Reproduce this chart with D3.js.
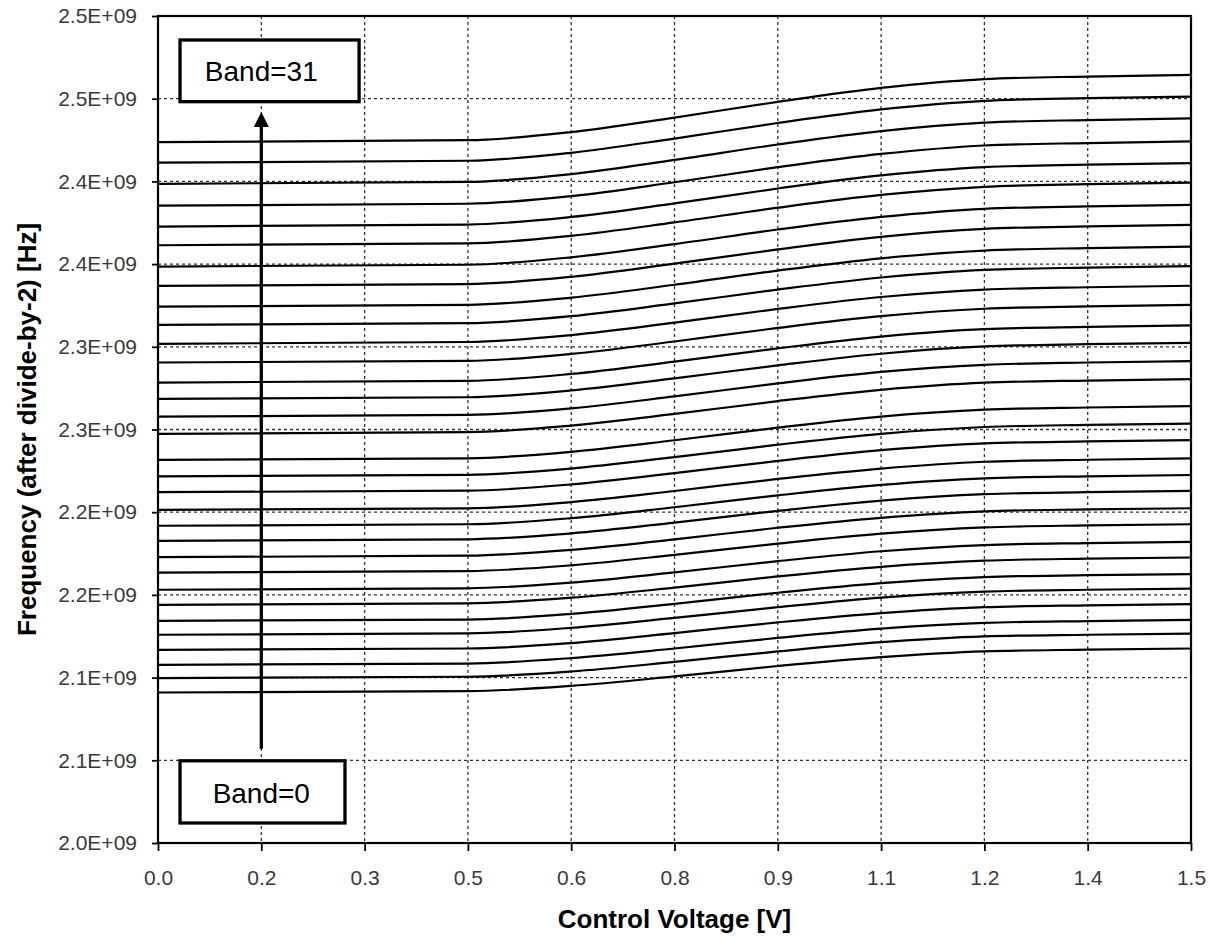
<!DOCTYPE html>
<html><head><meta charset="utf-8">
<script src="https://cdn.jsdelivr.net/npm/d3@7"></script>
<style>body{margin:0;background:#fff} svg{display:block}</style>
</head><body><svg id="chart" width="1211" height="936"></svg>
<script>
// Control voltage sample points [V]
const voltages = [0, 0.45, 0.6, 0.75, 0.9, 1.05, 1.2, 1.35, 1.5];
// Frequency after divide-by-2 [MHz], one row per band (Band 0 .. Band 31)
const bandFreqsMHz = [
  [2091.0, 2091.8, 2095.0, 2100.7, 2107.0, 2112.4, 2115.9, 2116.9, 2117.6],
  [2099.7, 2100.5, 2103.7, 2109.5, 2115.8, 2121.4, 2124.9, 2125.9, 2126.6],
  [2107.7, 2108.5, 2111.8, 2117.6, 2124.0, 2129.6, 2133.1, 2134.2, 2134.9],
  [2116.8, 2117.6, 2120.9, 2126.9, 2133.4, 2139.0, 2142.6, 2143.7, 2144.4],
  [2125.9, 2126.7, 2130.1, 2136.1, 2142.6, 2148.4, 2152.0, 2153.1, 2153.8],
  [2134.3, 2135.1, 2138.5, 2144.6, 2151.3, 2157.1, 2160.8, 2161.9, 2162.6],
  [2144.0, 2144.9, 2148.3, 2154.4, 2161.2, 2167.0, 2170.7, 2171.9, 2172.6],
  [2153.1, 2154.0, 2157.4, 2163.6, 2170.4, 2176.4, 2180.1, 2181.3, 2182.0],
  [2163.5, 2164.4, 2167.9, 2174.2, 2181.0, 2187.0, 2190.8, 2192.0, 2192.7],
  [2172.8, 2173.7, 2177.2, 2183.6, 2190.6, 2196.6, 2200.5, 2201.7, 2202.4],
  [2182.7, 2183.6, 2187.2, 2193.7, 2200.8, 2207.0, 2210.9, 2212.1, 2212.9],
  [2191.8, 2192.7, 2196.4, 2203.0, 2210.2, 2216.5, 2220.5, 2221.7, 2222.5],
  [2201.4, 2202.3, 2206.1, 2212.8, 2220.1, 2226.4, 2230.5, 2231.7, 2232.5],
  [2212.1, 2213.0, 2216.8, 2223.6, 2231.0, 2237.5, 2241.6, 2242.8, 2243.6],
  [2221.6, 2222.6, 2226.4, 2233.3, 2240.8, 2247.4, 2251.5, 2252.8, 2253.6],
  [2231.6, 2232.6, 2236.5, 2243.5, 2251.1, 2257.8, 2262.0, 2263.3, 2264.1],
  [2247.4, 2248.4, 2252.4, 2259.4, 2267.2, 2274.0, 2278.3, 2279.6, 2280.4],
  [2257.8, 2258.8, 2262.8, 2270.0, 2277.9, 2284.8, 2289.1, 2290.5, 2291.3],
  [2268.5, 2269.5, 2273.6, 2280.9, 2288.8, 2295.8, 2300.2, 2301.6, 2302.4],
  [2278.4, 2279.4, 2283.6, 2291.0, 2299.1, 2306.2, 2310.7, 2312.0, 2312.9],
  [2290.5, 2291.5, 2295.7, 2303.2, 2311.4, 2318.5, 2323.0, 2324.4, 2325.3],
  [2301.8, 2302.9, 2307.1, 2314.6, 2322.9, 2330.1, 2334.6, 2336.0, 2336.9],
  [2313.2, 2314.3, 2318.5, 2326.2, 2334.6, 2341.9, 2346.5, 2347.9, 2348.8],
  [2324.3, 2325.4, 2329.7, 2337.5, 2346.1, 2353.5, 2358.2, 2359.7, 2360.6],
  [2336.8, 2337.9, 2342.3, 2350.3, 2358.9, 2366.5, 2371.3, 2372.8, 2373.7],
  [2348.5, 2349.6, 2354.1, 2362.1, 2370.9, 2378.5, 2383.4, 2384.9, 2385.8],
  [2361.4, 2362.5, 2367.1, 2375.2, 2384.1, 2391.8, 2396.7, 2398.3, 2399.2],
  [2372.7, 2373.9, 2378.5, 2386.7, 2395.7, 2403.6, 2408.6, 2410.1, 2411.1],
  [2385.3, 2386.5, 2391.1, 2399.5, 2408.6, 2416.6, 2421.7, 2423.2, 2424.2],
  [2398.5, 2399.7, 2404.4, 2413.0, 2422.3, 2430.4, 2435.5, 2437.1, 2438.1],
  [2411.3, 2412.5, 2417.3, 2425.9, 2435.3, 2443.5, 2448.7, 2450.3, 2451.3],
  [2423.7, 2424.9, 2429.8, 2438.6, 2448.1, 2456.5, 2461.8, 2463.4, 2464.4]
];
const xTickValues = [0, 0.15, 0.3, 0.45, 0.6, 0.75, 0.9, 1.05, 1.2, 1.35, 1.5];
const xTickLabels = ["0.0","0.2","0.3","0.5","0.6","0.8","0.9","1.1","1.2","1.4","1.5"];
const yTickValuesMHz = [2000, 2050, 2100, 2150, 2200, 2250, 2300, 2350, 2400, 2450, 2500];
const yTickLabels = ["2.0E+09","2.1E+09","2.1E+09","2.2E+09","2.2E+09","2.3E+09","2.3E+09","2.4E+09","2.4E+09","2.5E+09","2.5E+09"];
const xTitle = "Control Voltage [V]";
const yTitle = "Frequency (after divide-by-2) [Hz]";
const bandLabels = ["Band=0", "Band=31"];

const svg = d3.select("#chart");
const W = 1211, H = 936;
const plot = {left: 158, top: 16, right: 1191, bottom: 843};
const x = d3.scaleLinear().domain([0, 1.5]).range([plot.left, plot.right]);
const y = d3.scaleLinear().domain([2000, 2500]).range([plot.bottom, plot.top]);
const font = "'Liberation Sans', Arial, sans-serif";

svg.append("rect").attr("width", W).attr("height", H).attr("fill", "#fff");

// gridlines
const grid = svg.append("g").attr("stroke", "#333").attr("stroke-width", 1.3).attr("stroke-dasharray", "3,3");
grid.selectAll("line.v").data(xTickValues.slice(1, -1)).join("line")
  .attr("x1", d => x(d)).attr("x2", d => x(d)).attr("y1", plot.top).attr("y2", plot.bottom);
grid.selectAll("line.h").data(yTickValuesMHz.slice(1, -1)).join("line")
  .attr("y1", d => y(d)).attr("y2", d => y(d)).attr("x1", plot.left).attr("x2", plot.right);

// band curves
const line = d3.line().x((d, i) => x(voltages[i])).y(d => y(d)).curve(d3.curveMonotoneX);
svg.append("g").selectAll("path").data(bandFreqsMHz).join("path")
  .attr("d", line).attr("fill", "none").attr("stroke", "#000").attr("stroke-width", 2.2);

// arrow annotation
const arrowV = 0.15, arrowFrom = 2057, arrowTo = 2442;
const tipY = y(arrowTo);
svg.append("line").attr("x1", x(arrowV)).attr("x2", x(arrowV))
  .attr("y1", y(arrowFrom)).attr("y2", tipY + 12)
  .attr("stroke", "#000").attr("stroke-width", 3.3);
svg.append("path")
  .attr("d", `M${x(arrowV)},${tipY} L${x(arrowV) - 7.5},${tipY + 15} L${x(arrowV) + 7.5},${tipY + 15} Z`)
  .attr("fill", "#000");

// label boxes
const boxes = [
  {label: bandLabels[1], v0: 0.032, v1: 0.292, fTop: 2485.5, fBot: 2448.2, fText: 2460.7},
  {label: bandLabels[0], v0: 0.032, v1: 0.2715, fTop: 2049.7, fBot: 2012.1, fText: 2024.2}
];
boxes.forEach(b => {
  svg.append("rect").attr("x", x(b.v0)).attr("y", y(b.fTop))
    .attr("width", x(b.v1) - x(b.v0)).attr("height", y(b.fBot) - y(b.fTop))
    .attr("fill", "#fff").attr("stroke", "#000").attr("stroke-width", 3.3);
  svg.append("text").attr("x", x(arrowV)).attr("y", y(b.fText))
    .attr("text-anchor", "middle").attr("font-family", font).attr("font-size", 28)
    .attr("fill", "#000").text(b.label);
});

// frame
svg.append("rect").attr("x", plot.left).attr("y", plot.top)
  .attr("width", plot.right - plot.left).attr("height", plot.bottom - plot.top)
  .attr("fill", "none").attr("stroke", "#000").attr("stroke-width", 2.2);

// axes
const xAxis = svg.append("g").attr("transform", `translate(0,${plot.bottom})`)
  .call(d3.axisBottom(x).tickValues(xTickValues).tickFormat((d, i) => xTickLabels[i]).tickSize(8).tickPadding(19));
const yAxis = svg.append("g").attr("transform", `translate(${plot.left},0)`)
  .call(d3.axisLeft(y).tickValues(yTickValuesMHz).tickFormat((d, i) => yTickLabels[i]).tickSize(6).tickPadding(15));
[xAxis, yAxis].forEach(a => {
  a.select(".domain").remove();
  a.selectAll(".tick line").attr("stroke", "#000").attr("stroke-width", 1.8);
  a.selectAll(".tick text").attr("font-family", font).attr("font-size", 21).attr("fill", "#3a3a3a");
});

// titles
svg.append("text").attr("x", (plot.left + plot.right) / 2).attr("y", 928)
  .attr("text-anchor", "middle").attr("font-family", font).attr("font-size", 26)
  .attr("font-weight", "bold").attr("fill", "#000").text(xTitle);
svg.append("text").attr("transform", `translate(36,${(plot.top + plot.bottom) / 2}) rotate(-90)`)
  .attr("text-anchor", "middle").attr("font-family", font).attr("font-size", 26)
  .attr("font-weight", "bold").attr("fill", "#000").text(yTitle);
</script></body></html>
